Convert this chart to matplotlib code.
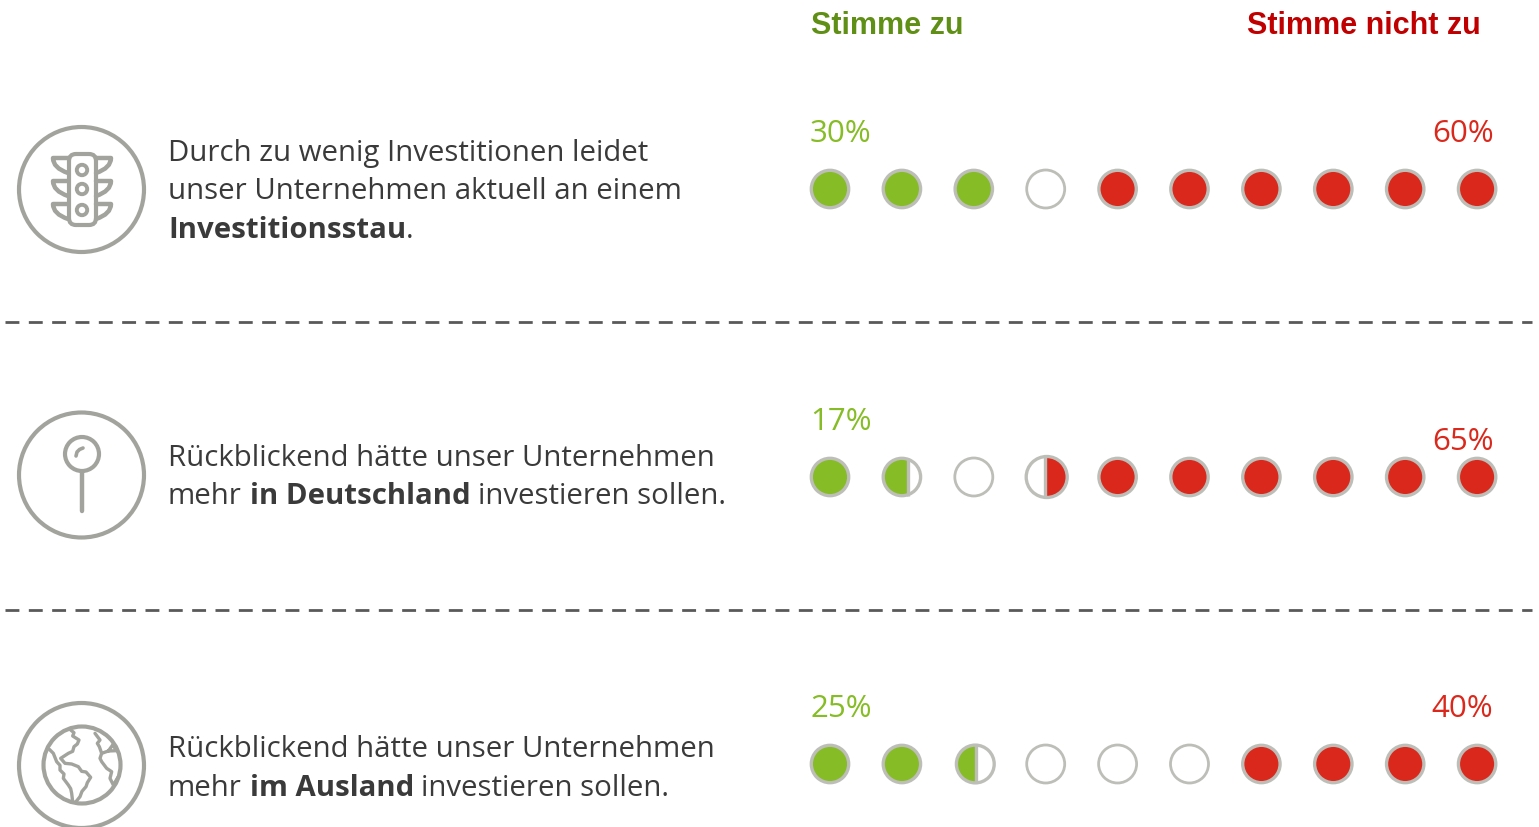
import matplotlib
matplotlib.use("Agg")
import matplotlib.pyplot as plt
from matplotlib.patches import Circle, FancyBboxPatch, PathPatch, Rectangle
from matplotlib.path import Path

W, H = 1539, 827

# data: share of agree / disagree per statement, and the state of each of the ten dots
agree = [30, 17, 25]
disagree = [60, 65, 40]
dots = [
    ["g", "g", "g", "o", "r", "r", "r", "r", "r", "r"],
    ["g", "gh", "o", "rh", "r", "r", "r", "r", "r", "r"],
    ["g", "g", "gh", "o", "o", "o", "r", "r", "r", "r"],
]
header_agree = "Stimme zu"
header_disagree = "Stimme nicht zu"
statements = [
    [[("Durch zu wenig Investitionen leidet", False)],
     [("unser Unternehmen aktuell an einem", False)],
     [("Investitionsstau", True), (".", False)]],
    [[("Rückblickend hätte unser Unternehmen", False)],
     [("mehr ", False), ("in Deutschland", True), (" investieren sollen.", False)]],
    [[("Rückblickend hätte unser Unternehmen", False)],
     [("mehr ", False), ("im Ausland", True), (" investieren sollen.", False)]],
]

GREEN = "#86BC25"
RED = "#DA291C"
RING = "#BEBEB9"
ICON = "#A3A39D"
TEXT = "#3A3A3A"
BODY_FONT = "Open Sans"

fig = plt.figure(figsize=(W / 100, H / 100), dpi=100)
ax = fig.add_axes([0, 0, 1, 1])
ax.set_xlim(0, W)
ax.set_ylim(H, 0)
ax.axis("off")

row_y = [189, 477, 764]
first_x, step = 830, 71.9
label_y = [134, 422, 709]
label_y_right = [134, 442, 709]
# the half dots are not quite regular: (row, dot) -> centre shift, divider offset, radius
half_style = {(1, 1): (0, 6, 18.7), (1, 3): (1, -1.3, 20.5), (2, 2): (1.5, 0.5, 18.9)}


def line(pts, lw=3.0):
    codes = [Path.MOVETO] + [Path.LINETO] * (len(pts) - 1)
    ax.add_patch(PathPatch(Path(pts, codes), fc="none", ec=ICON, lw=lw,
                           capstyle="round", joinstyle="round"))


def ring(cx, cy, r, lw=3.0):
    ax.add_patch(Circle((cx, cy), r, fc="none", ec=ICON, lw=lw))


def draw_dot(x, y, state, style=None):
    if state == "o":
        ax.add_patch(Circle((x, y), 19, fc="white", ec=RING, lw=2.0, zorder=3))
    elif state in ("g", "r"):
        color = GREEN if state == "g" else RED
        ax.add_patch(Circle((x, y), 18.7, fc=color, ec=RING, lw=2.4, zorder=3))
    else:
        # half dot: fill clipped at the divider
        shift, off, r = style
        x += shift
        div = x + off
        color = GREEN if state == "gh" else RED
        if state == "gh":
            clip = Rectangle((x - 30, y - 30), 30 + off, 60, transform=ax.transData)
        else:
            clip = Rectangle((div, y - 30), 40, 60, transform=ax.transData)
        ax.add_patch(Circle((x, y), r, fc="white", ec="none", zorder=2))
        fill = Circle((x, y), r, fc=color, ec="none", zorder=3)
        ax.add_patch(fill)
        fill.set_clip_path(clip)
        ax.add_patch(Circle((x, y), r, fc="none", ec=RING, lw=2.4, zorder=4))
        ax.plot([div, div], [y - r, y + r], color=RING, lw=2.4, zorder=4,
                solid_capstyle="butt")


def draw_runs(x, y, runs, size=21.2):
    renderer = fig.canvas.get_renderer()
    for s, bold in runs:
        weight = "bold" if bold else "normal"
        lead = len(s) - len(s.lstrip())
        trail = len(s) - len(s.rstrip())
        t0 = ax.text(0, 0, "a a", fontsize=size, family=BODY_FONT)
        t1 = ax.text(0, 0, "aa", fontsize=size, family=BODY_FONT)
        sp = t0.get_window_extent(renderer).width - t1.get_window_extent(renderer).width
        t0.remove()
        t1.remove()
        x += lead * sp
        t = ax.text(x, y, s.strip(), fontsize=size, family=BODY_FONT, weight=weight,
                    color=TEXT, va="baseline", ha="left")
        x += t.get_window_extent(renderer).width + trail * sp


# headers
ax.text(811, 33.5, header_agree, color="#5F8F14", fontsize=22, weight="bold",
        family="Liberation Sans", va="baseline")
ax.text(1481, 33.5, header_disagree, color="#C00000", fontsize=22, weight="bold",
        family="Liberation Sans", va="baseline", ha="right")

# separators
for y in (322, 610):
    ax.plot([5, 1532], [y, y], color="#595959", lw=2.0, dashes=(5.0, 3.4),
            solid_capstyle="butt", dash_capstyle="butt")

# dots and percent labels
for i, states in enumerate(dots):
    for j, st in enumerate(states):
        draw_dot(first_x + j * step, row_y[i], st, half_style.get((i, j)))
    ax.text(810, label_y[i], f"{agree[i]}%", color=GREEN, fontsize=22.5,
            family="Open Sans", va="center", ha="left")
    ax.text(1493.5, label_y_right[i], f"{disagree[i]}%", color=RED, fontsize=22.5,
            family="Open Sans", va="center", ha="right")

# statements
baselines = [[161, 199, 238], [466, 504], [757, 796]]
for lines, bl in zip(statements, baselines):
    for runs, y in zip(lines, bl):
        draw_runs(168, y, runs)

# icon 1: traffic light
ring(81.5, 189.5, 62.5)
ax.add_patch(FancyBboxPatch((69, 154), 27, 71, boxstyle="round,pad=0,rounding_size=7",
                            fc="none", ec=ICON, lw=3.0))
for cy in (170, 189, 210):
    ring(82, cy, 5.2, lw=2.8)
for top in (158, 181, 204):
    for sign in (-1, 1):
        x0 = 82 + sign * 14
        x1 = 82 + sign * 29
        verts = [(x0, top), (x1, top), (x1, top + 10), (x0, top + 15)]
        codes = [Path.MOVETO, Path.LINETO, Path.CURVE3, Path.CURVE3]
        ax.add_patch(PathPatch(Path(verts, codes), fc="none", ec=ICON, lw=3.2,
                               capstyle="round", joinstyle="round"))

# icon 2: pin
ring(81.5, 475, 62.5)
ring(82, 454, 17)
line([(82, 472), (82, 511)], lw=3.2)
line([(76, 456), (77, 452), (79.5, 449.5), (83, 448)], lw=2.6)

# icon 3: globe
ring(81.5, 765.5, 62.5)
ring(82, 765, 38.5)
to_px = lambda pts: [(a / 3, 690 + b / 3) for a, b in pts]
line(to_px([(212, 120), (222, 128), (218, 138), (237, 150), (232, 162), (222, 170), (218, 184), (205, 190),
            (182, 205), (195, 220), (215, 222), (235, 230), (245, 244), (258, 246), (272, 262), (262, 278),
            (258, 290), (246, 304), (240, 320), (228, 335)]), lw=2.4)
line(to_px([(148, 178), (160, 190), (170, 215), (180, 226), (180, 240), (192, 252), (190, 265), (205, 285),
            (212, 296), (215, 310), (218, 335)]), lw=2.4)
line(to_px([(285, 130), (300, 150), (292, 160), (298, 170), (305, 190), (325, 183), (350, 182), (338, 165),
            (325, 183)]), lw=2.4)
line(to_px([(305, 190), (300, 205), (305, 215), (320, 235), (335, 245), (330, 265), (340, 285), (355, 260)]), lw=2.4)

fig.savefig("out.png", dpi=100)
